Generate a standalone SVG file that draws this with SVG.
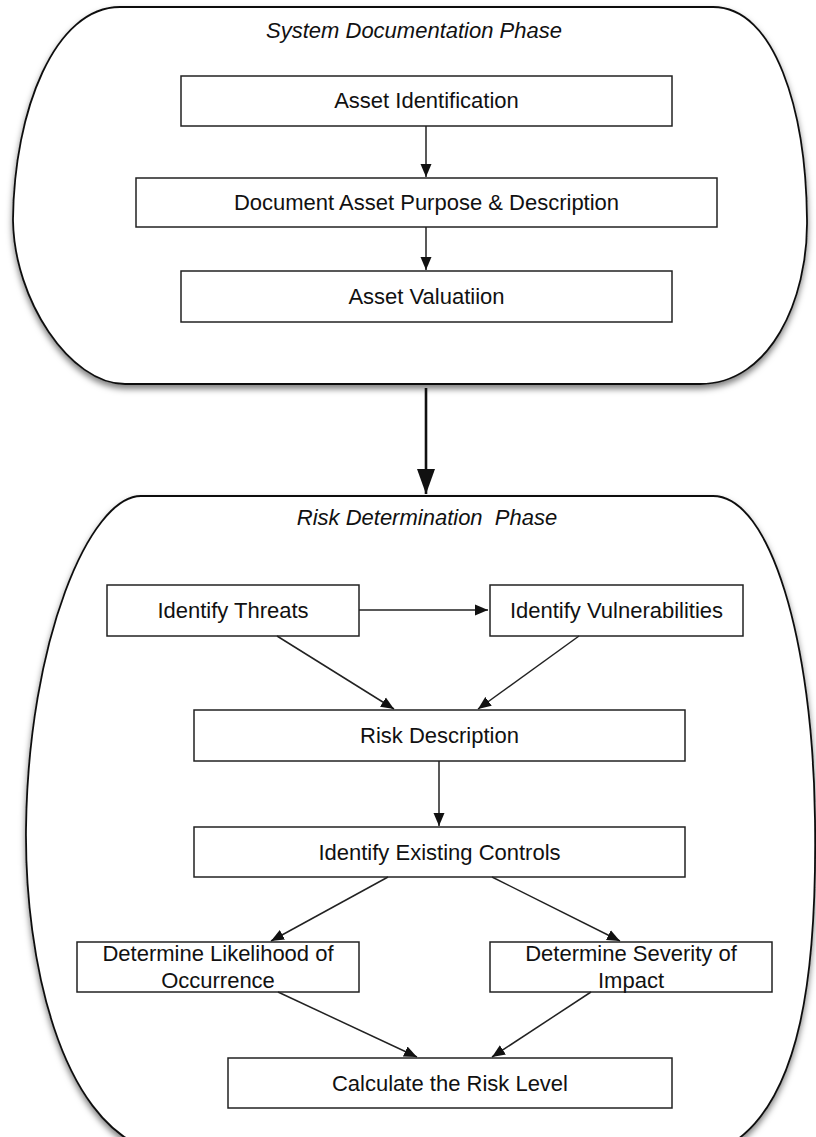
<svg xmlns="http://www.w3.org/2000/svg" width="816" height="1137" viewBox="0 0 816 1137">
<style>
.bg{fill:#ffffff}
.cont{fill:#ffffff;stroke:#111;stroke-width:1.8}
.box{fill:#ffffff;stroke:#222;stroke-width:1.5}
.lbl{font-family:"Liberation Sans",Arial,Helvetica,sans-serif;font-size:22px;fill:#111;text-anchor:middle}
.ttl{font-family:"Liberation Sans",Arial,Helvetica,sans-serif;font-size:22px;font-style:italic;fill:#111;text-anchor:middle}
.con{fill:none;stroke:#222;stroke-width:1.5}
.big{fill:none;stroke:#111;stroke-width:2.6}
</style>
<defs>
<filter id="sh" x="-10%" y="-10%" width="120%" height="120%">
<feDropShadow dx="0" dy="4" stdDeviation="3" flood-color="#000" flood-opacity="0.5"/>
</filter>
<marker id="ah" markerUnits="userSpaceOnUse" markerWidth="14" markerHeight="12" refX="13" refY="6" orient="auto">
<path d="M0,0.5 L13,6 L0,11.5 Z" fill="#111"/>
</marker>
<marker id="ahb" markerUnits="userSpaceOnUse" markerWidth="26" markerHeight="20" refX="25" refY="10" orient="auto">
<path d="M0,1 L25,10 L0,19 Z" fill="#111"/>
</marker>
</defs>
<rect class="bg" x="0" y="0" width="816" height="1137"/>

<g id="system-documentation-phase">
<path class="cont" filter="url(#sh)" d="M120,7 H713 C775,7 806,110 807,220 C808,300 770,384 700,384 H125 C70,384 14,300 13,220 C14,110 55,7 120,7 Z"/>
<text class="ttl" x="414" y="38">System Documentation Phase</text>
</g>

<g id="risk-determination-phase">
<path class="cont" filter="url(#sh)" d="M141,496 H713 C770,496 813,640 815,820 C817,960 805,1110 720,1150 H150 C60,1120 25,960 26,830 C28,640 90,496 141,496 Z"/>
<text class="ttl" x="427" y="525" xml:space="preserve">Risk Determination  Phase</text>
</g>

<g id="asset-identification">
<rect class="box" x="181" y="76" width="491" height="50"/>
<text class="lbl" x="426.5" y="108">Asset Identification</text>
</g>

<g id="document-asset-purpose">
<rect class="box" x="136" y="178" width="581" height="49"/>
<text class="lbl" x="426.5" y="210">Document Asset Purpose &amp; Description</text>
</g>

<g id="asset-valuation">
<rect class="box" x="181" y="271" width="491" height="51"/>
<text class="lbl" x="426.5" y="304">Asset Valuatiion</text>
</g>

<g id="identify-threats">
<rect class="box" x="107" y="585" width="252" height="51"/>
<text class="lbl" x="233" y="618">Identify Threats</text>
</g>

<g id="identify-vulnerabilities">
<rect class="box" x="490" y="585" width="253" height="51"/>
<text class="lbl" x="616.5" y="618">Identify Vulnerabilities</text>
</g>

<g id="risk-description">
<rect class="box" x="194" y="710" width="491" height="51"/>
<text class="lbl" x="439.5" y="743">Risk Description</text>
</g>

<g id="identify-existing-controls">
<rect class="box" x="194" y="827" width="491" height="50"/>
<text class="lbl" x="439.5" y="860">Identify Existing Controls</text>
</g>

<g id="determine-likelihood">
<rect class="box" x="77" y="942" width="282" height="50"/>
<text class="lbl" x="218" y="961">Determine Likelihood of</text>
<text class="lbl" x="218" y="988">Occurrence</text>
</g>

<g id="determine-severity">
<rect class="box" x="490" y="942" width="282" height="50"/>
<text class="lbl" x="631" y="961">Determine Severity of</text>
<text class="lbl" x="631" y="988">Impact</text>
</g>

<g id="calculate-risk-level">
<rect class="box" x="228" y="1058" width="444" height="50"/>
<text class="lbl" x="450" y="1091">Calculate the Risk Level</text>
</g>

<g id="connectors">
<line class="con" x1="426" y1="126" x2="426" y2="177" marker-end="url(#ah)"/>
<line class="con" x1="426" y1="227" x2="426" y2="270" marker-end="url(#ah)"/>
<line class="big" x1="426" y1="388" x2="426" y2="494" marker-end="url(#ahb)"/>
<line class="con" x1="359" y1="610" x2="488" y2="610" marker-end="url(#ah)"/>
<line class="con" x1="277" y1="636" x2="394" y2="709" marker-end="url(#ah)"/>
<line class="con" x1="579" y1="636" x2="478" y2="709" marker-end="url(#ah)"/>
<line class="con" x1="439" y1="761" x2="439" y2="826" marker-end="url(#ah)"/>
<line class="con" x1="388" y1="877" x2="271" y2="941" marker-end="url(#ah)"/>
<line class="con" x1="492" y1="877" x2="620" y2="941" marker-end="url(#ah)"/>
<line class="con" x1="278" y1="992" x2="417" y2="1057" marker-end="url(#ah)"/>
<line class="con" x1="591" y1="992" x2="492" y2="1057" marker-end="url(#ah)"/>
</g>
</svg>
